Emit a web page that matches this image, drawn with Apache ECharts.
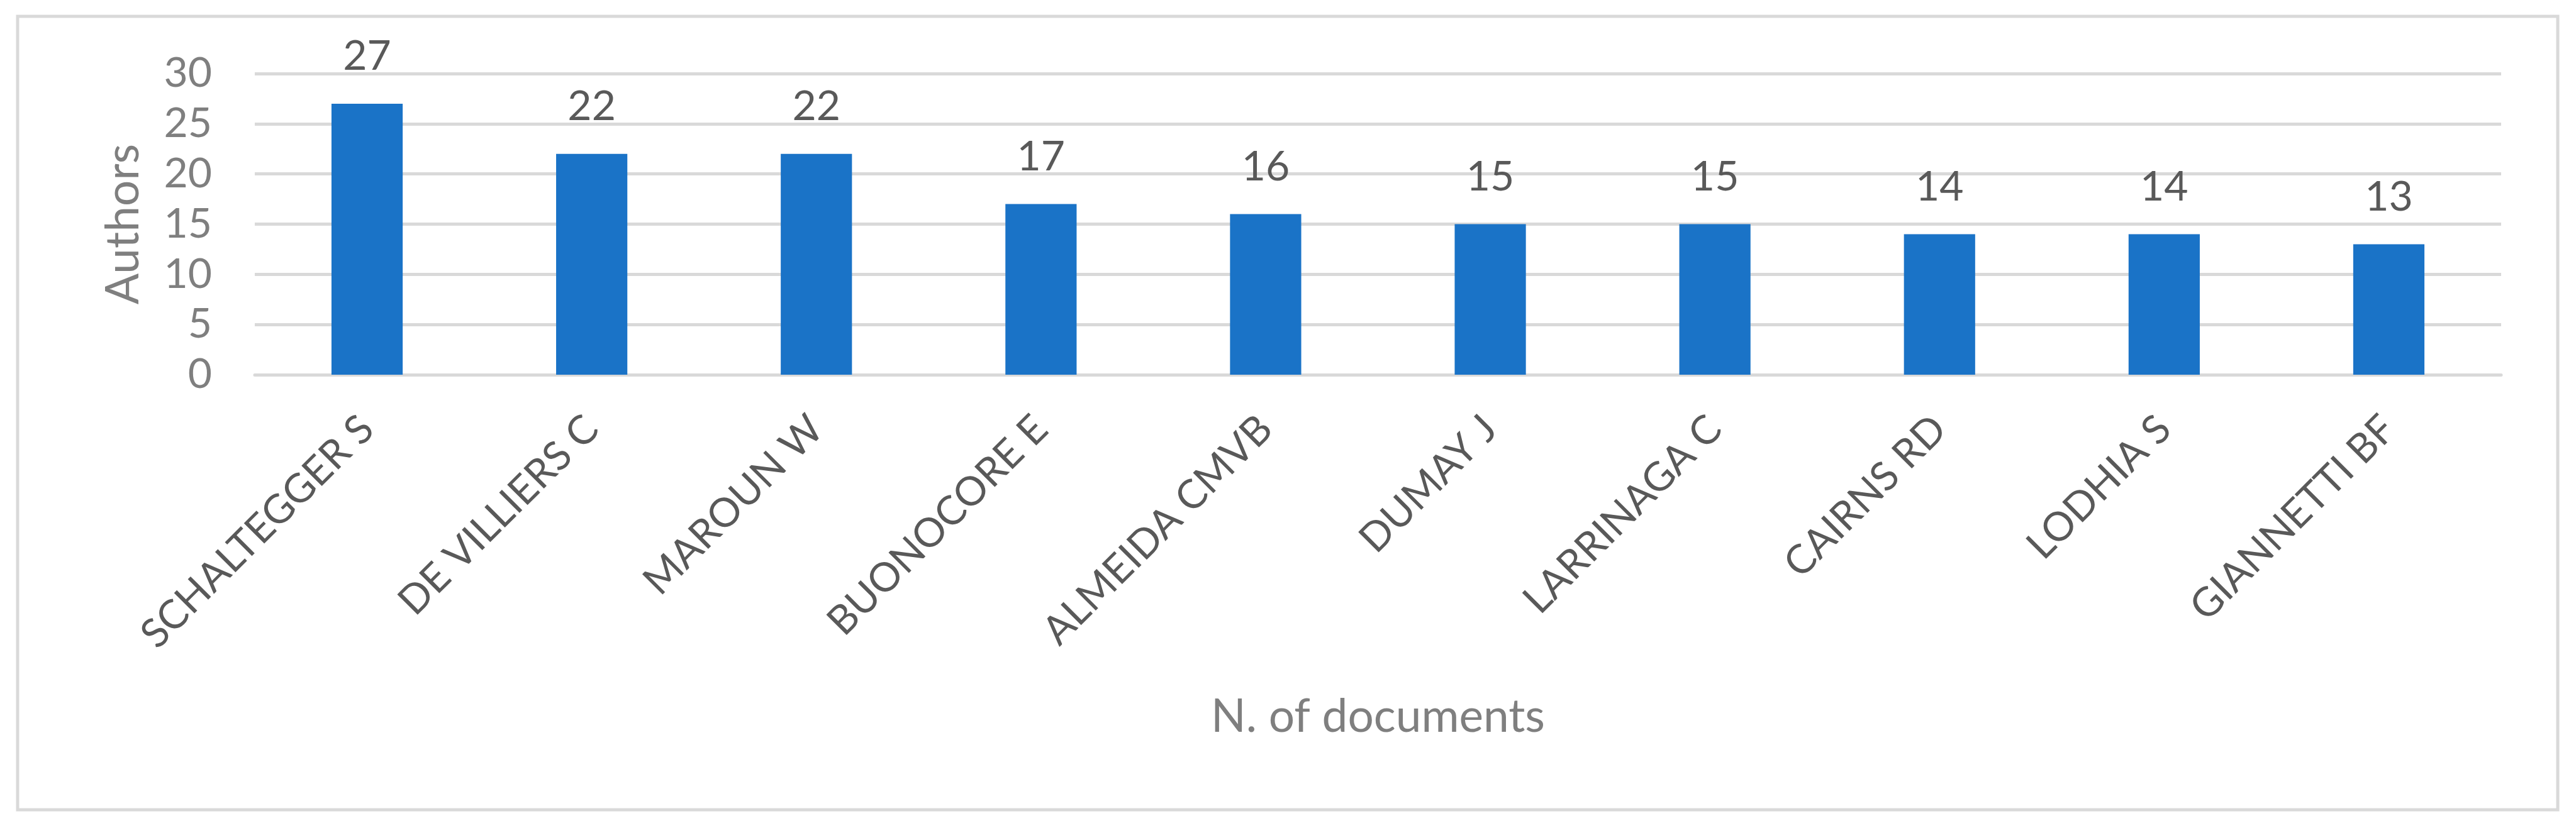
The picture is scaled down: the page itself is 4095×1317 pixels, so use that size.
<!DOCTYPE html>
<html>
<head>
<meta charset="utf-8">
<title>Authors by number of documents</title>
<script src="https://cdn.jsdelivr.net/npm/echarts@6/dist/echarts.min.js"></script>
<style>
  html, body { margin: 0; padding: 0; background: #ffffff; }
  #chart { width: 4095px; height: 1317px; }
</style>
</head>
<body>
<div id="chart"></div>
<script>
// datos
const authors = [
  'SCHALTEGGER S', 'DE VILLIERS C', 'MAROUN W', 'BUONOCORE E', 'ALMEIDA CMVB',
  'DUMAY J', 'LARRINAGA C', 'CAIRNS RD', 'LODHIA S', 'GIANNETTI BF'
];
const documents = [27, 22, 22, 17, 16, 15, 15, 14, 14, 13];
const yTicks = [0, 5, 10, 15, 20, 25, 30];

const FONT = 'Lato, "Open Sans", sans-serif';
const chart = echarts.init(document.getElementById('chart'));

const option = {
  backgroundColor: '#ffffff',
  animation: false,
  // marco gris alrededor del grafico
  graphic: [
    {
      type: 'rect',
      shape: { x: 28, y: 26, width: 4038, height: 1262 },
      style: { fill: 'none', stroke: '#d9d9d9', lineWidth: 5 },
      silent: true
    }
  ],
  grid: {
    left: 405,
    right: 119,
    top: 117,
    bottom: 721
  },
  xAxis: {
    type: 'category',
    data: authors,
    name: 'N. of documents',
    nameLocation: 'middle',
    nameGap: 508,
    nameTextStyle: { color: '#7f7f7f', fontSize: 73, fontFamily: FONT },
    axisLine: { show: true, lineStyle: { color: '#d9d9d9', width: 5 } },
    axisTick: { show: false },
    axisLabel: {
      rotate: 45,
      margin: 76,
      interval: 0,
      color: '#595959',
      fontSize: 64,
      fontFamily: FONT
    }
  },
  yAxis: {
    type: 'value',
    min: yTicks[0],
    max: yTicks[yTicks.length - 1],
    interval: yTicks[1] - yTicks[0],
    name: 'Authors',
    nameLocation: 'middle',
    nameRotate: 90,
    nameGap: 172,
    nameTextStyle: { color: '#7f7f7f', fontSize: 73, fontFamily: FONT },
    axisLine: { show: false },
    axisTick: { show: false },
    axisLabel: { margin: 68, color: '#7f7f7f', fontSize: 66, fontFamily: FONT },
    splitLine: { lineStyle: { color: '#d9d9d9', width: 5 } }
  },
  series: [
    {
      type: 'bar',
      data: documents,
      barWidth: '31.7%',
      itemStyle: { color: '#1a73c7' },
      label: {
        show: true,
        position: 'top',
        distance: 42,
        color: '#595959',
        fontSize: 66,
        fontFamily: FONT
      }
    }
  ]
};

chart.setOption(option);
</script>
</body>
</html>
